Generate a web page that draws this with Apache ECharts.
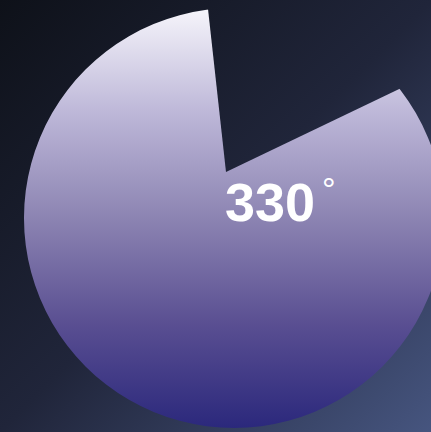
<!DOCTYPE html>
<html>
<head>
<meta charset="utf-8">
<script src="https://cdn.jsdelivr.net/npm/echarts@6/dist/echarts.min.js"></script>
<style>
html,body{margin:0;padding:0;background:#1a1e2c;}
#main{width:431px;height:432px;}
</style>
</head>
<body>
<div id="main"></div>
<script>
// Data (angles in degrees)
const sliceNames = ['gap', 'sector'];
const sliceValues = [70.7, 289.3];
const labelValue = '330';
const labelUnit = '°';

const bgStops = [
  {offset: 0, color: '#0e1119'},
  {offset: 0.5, color: '#20253a'},
  {offset: 1, color: '#46557f'}
];
const discGradient = {
  type: 'linear', x: 0, y: 0, x2: 0, y2: 1,
  colorStops: [
    {offset: 0, color: '#f6f5fb'},
    {offset: 0.25, color: '#bdb7d8'},
    {offset: 0.5, color: '#8c84b2'},
    {offset: 0.75, color: '#5a4f92'},
    {offset: 1, color: '#2b287c'}
  ]
};
const total = sliceValues.reduce((a, b) => a + b, 0);

const chart = echarts.init(document.getElementById('main'), null, {renderer: 'svg'});
chart.setOption({
  animation: false,
  backgroundColor: {type: 'linear', x: 0, y: 0, x2: 1, y2: 1, colorStops: bgStops},
  title: {
    text: '{a|' + labelValue + '}{b|' + labelUnit + '}',
    left: 220,
    top: 167,
    textStyle: {
      rich: {
        a: {fontFamily: 'Liberation Sans, Arial, sans-serif', fontWeight: 'bold', fontSize: 54, color: '#ffffff', lineHeight: 60},
        b: {fontFamily: 'Liberation Sans, Arial, sans-serif', fontWeight: 'normal', fontSize: 34, color: '#ffffff', lineHeight: 60, verticalAlign: 'top', padding: [0, 0, 0, 7]}
      }
    }
  },
  series: [
    {
      type: 'pie',
      silent: true,
      center: [234, 218],
      radius: 210,
      label: {show: false},
      labelLine: {show: false},
      itemStyle: {color: discGradient, borderWidth: 0},
      data: [{name: sliceNames[1], value: total}]
    },
    {
      type: 'pie',
      silent: true,
      center: [226, 172],
      radius: 330,
      startAngle: 96.3,
      clockwise: true,
      label: {show: false},
      labelLine: {show: false},
      data: sliceNames.map((n, i) => ({
        name: n,
        value: sliceValues[i],
        itemStyle: i === 0
          ? {color: {type: 'linear', x: 0, y: 0, x2: 431, y2: 432, global: true, colorStops: bgStops}, borderWidth: 0}
          : {color: 'rgba(0,0,0,0)', borderWidth: 0}
      }))
    }
  ]
});
</script>
</body>
</html>
